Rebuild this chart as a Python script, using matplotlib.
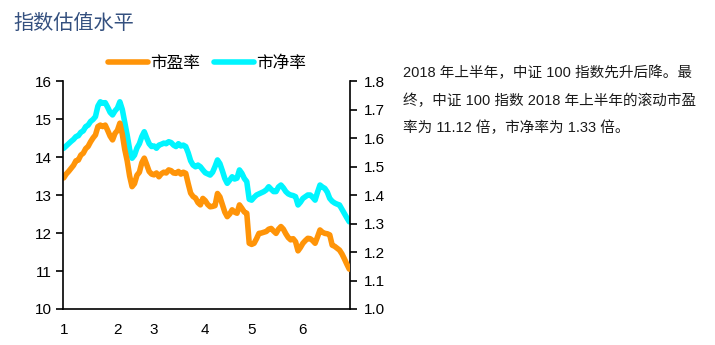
import matplotlib
matplotlib.use("Agg")
import matplotlib.pyplot as plt

plt.rcParams["font.family"] = ["Liberation Sans", "Noto Sans CJK SC", "DejaVu Sans"]

# month labels and the trading-day index where each month starts
month_labels = ["1", "2", "3", "4", "5", "6"]
month_pos = [0, 22, 37, 58, 77, 98]

# rolling PE (left axis), one value per trading day, 2018 H1
pe = [
    13.45, 13.55, 13.62, 13.70, 13.78, 13.90, 13.92, 14.05, 14.10, 14.22,
    14.28, 14.40, 14.50, 14.58, 14.80, 14.84, 14.80, 14.84, 14.70, 14.55,
    14.45, 14.62, 14.70, 14.89, 14.60, 14.20, 13.90, 13.50, 13.22, 13.30,
    13.52, 13.60, 13.85, 13.97, 13.80, 13.62, 13.55, 13.53, 13.58, 13.48,
    13.56, 13.60, 13.58, 13.66, 13.64, 13.58, 13.57, 13.62, 13.55, 13.60,
    13.57, 13.30, 13.05, 12.96, 12.92, 12.80, 12.74, 12.91, 12.85, 12.75,
    12.69, 12.70, 12.72, 13.04, 12.95, 12.75, 12.55, 12.43, 12.50, 12.61,
    12.55, 12.52, 12.74, 12.65, 12.55, 12.52, 11.73, 11.70, 11.73, 11.85,
    11.99, 12.00, 12.02, 12.04, 12.10, 12.12, 12.05, 11.99, 12.10, 12.17,
    12.10, 11.98, 11.88, 11.82, 11.85, 11.77, 11.53, 11.62, 11.73, 11.80,
    11.86, 11.85, 11.80, 11.73, 11.90, 12.08, 12.02, 11.99, 11.98, 11.95,
    11.68, 11.65, 11.60, 11.55, 11.45, 11.32, 11.18, 11.05,
]

# PB (right axis)
pb = [
    1.564, 1.572, 1.580, 1.588, 1.595, 1.605, 1.608, 1.620, 1.625, 1.640,
    1.645, 1.658, 1.665, 1.675, 1.712, 1.727, 1.722, 1.724, 1.708, 1.690,
    1.681, 1.695, 1.705, 1.727, 1.700, 1.655, 1.610, 1.560, 1.529, 1.540,
    1.565, 1.580, 1.605, 1.622, 1.600, 1.580, 1.570, 1.572, 1.564, 1.575,
    1.578, 1.582, 1.580, 1.587, 1.584, 1.575, 1.570, 1.580, 1.572, 1.575,
    1.570, 1.548, 1.520, 1.505, 1.499, 1.505, 1.499, 1.488, 1.478, 1.474,
    1.470, 1.480, 1.500, 1.523, 1.510, 1.485, 1.458, 1.441, 1.452, 1.464,
    1.456, 1.459, 1.488, 1.476, 1.458, 1.447, 1.385, 1.382, 1.392, 1.400,
    1.404, 1.408, 1.412, 1.418, 1.429, 1.420, 1.412, 1.412, 1.428, 1.435,
    1.425, 1.412, 1.404, 1.400, 1.398, 1.394, 1.365, 1.375, 1.388, 1.394,
    1.400, 1.400, 1.392, 1.382, 1.410, 1.435, 1.428, 1.423, 1.410, 1.388,
    1.378, 1.372, 1.368, 1.365, 1.350, 1.335, 1.320, 1.306,
]

left_ticks = [10, 11, 12, 13, 14, 15, 16]
right_ticks = [1.0, 1.1, 1.2, 1.3, 1.4, 1.5, 1.6, 1.7, 1.8]

note_lines = [
    "2018 年上半年，中证 100 指数先升后降。最",
    "终，中证 100 指数 2018 年上半年的滚动市盈",
    "率为 11.12 倍，市净率为 1.33 倍。",
]

ORANGE = "#FF9408"
CYAN = "#00F5FF"

fig = plt.figure(figsize=(7.15, 3.45), dpi=100)
ax = fig.add_axes([63 / 715, 1 - 309 / 345, 287 / 715, 228 / 345])
ax2 = ax.twinx()

x = list(range(len(pe)))
ax2.plot(x, pb, color=CYAN, lw=4.0, solid_capstyle="round", label="市净率")
ax.plot(x, pe, color=ORANGE, lw=4.0, solid_capstyle="round", label="市盈率")
ax.set_zorder(ax2.get_zorder() + 1)
ax.patch.set_visible(False)

ax.set_xlim(-0.3, len(pe) - 0.7)
ax.set_ylim(10, 16)
ax2.set_ylim(1.0, 1.8)
ax.set_yticks(left_ticks)
ax.set_yticklabels([str(t) for t in left_ticks])
ax2.set_yticks(right_ticks)
ax2.set_yticklabels([f"{t:.1f}" for t in right_ticks])
ax.set_xticks(month_pos)
ax.set_xticklabels(month_labels)

for a in (ax, ax2):
    a.spines["top"].set_visible(False)
    for s in a.spines.values():
        s.set_linewidth(1.2)
        s.set_color("black")
ax.spines["right"].set_visible(False)
ax2.spines["left"].set_visible(False)
ax2.spines["bottom"].set_visible(False)

ax.tick_params(axis="y", length=5, width=1.2, labelsize=11, pad=3)
ax.tick_params(axis="x", length=0, labelsize=11, pad=10)
ax2.tick_params(axis="y", length=5, width=1.2, labelsize=11, pad=5)

# legend above the plot
h1, l1 = ax.get_legend_handles_labels()
h2, l2 = ax2.get_legend_handles_labels()
fig.legend(h1 + h2, l1 + l2, loc="center", bbox_to_anchor=(207 / 715, 1 - 63 / 345),
           ncol=2, frameon=False, fontsize=12, handlelength=2.4, handletextpad=0.15,
           columnspacing=0.8)

fig.text(13 / 715, 1 - 23 / 345, "指数估值水平", fontsize=14.5, color="#34507F",
         ha="left", va="center")

for i, line in enumerate(note_lines):
    fig.text(403 / 715, 1 - (73 + 27.5 * i) / 345, line, fontsize=10.5,
             color="#1a1a1a", ha="left", va="center")

fig.savefig("out.png", dpi=100)
